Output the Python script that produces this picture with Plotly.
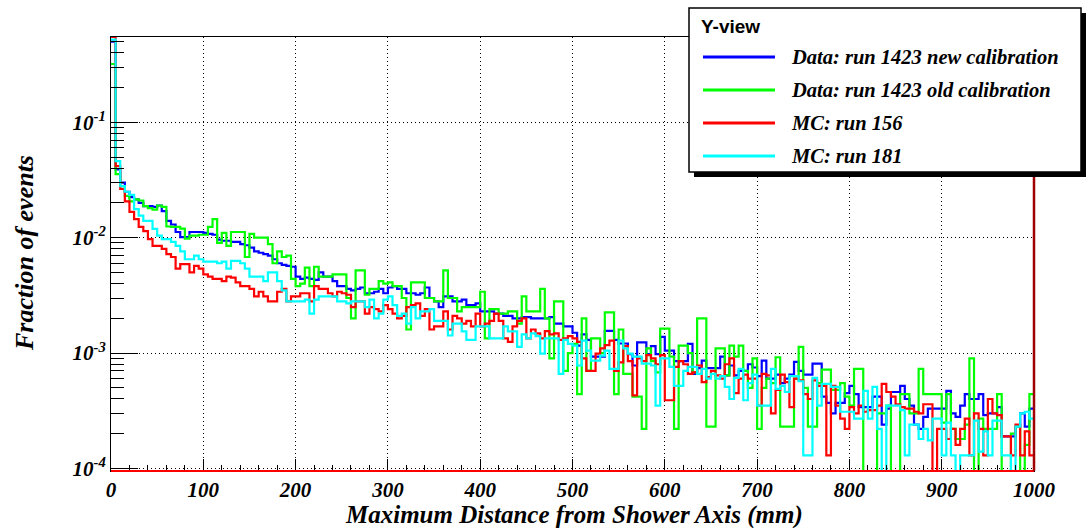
import math
import plotly.graph_objects as go

# ---------------- data (fraction of events, in units of 1e-4) ----------------
bin_width_mm = 5
x_range = [0, 1000]
value_unit = 1e-4

series_names = [
    "Data: run 1423 new calibration",
    "Data: run 1423 old calibration",
    "MC: run 156",
    "MC: run 181",
]
series_colors = ["#0000ff", "#00ff00", "#ff0000", "#00ffff"]

blue_new_cal = [
    5000, 390, 300, 250, 225, 215, 200, 188, 188, 185, 190, 170, 140, 130, 112, 101, 101, 112, 112, 112,
    110, 108, 106, 96, 94, 94, 92, 92, 88, 86, 82, 76, 74, 72, 70, 65, 60, 58, 57, 56,
    46, 44, 45, 44, 43, 50, 46, 46, 42, 38, 38, 36, 35, 36, 37, 33, 33, 34, 36, 33,
    37, 38, 36, 36, 33, 33, 32, 33, 37, 30, 28, 25, 31, 31, 28, 28, 29, 26, 26, 27,
    23, 23, 23, 22, 22, 21, 21, 20, 20, 20.5, 20.5, 20, 20, 20, 20, 20.5, 18, 18, 17, 17,
    15, 11.6, 14.5, 13, 9.3, 9.3, 9.3, 15.6, 15.6, 13, 12.1, 12.1, 9.8, 7.8, 12.4, 12.4, 9.8, 11.5, 9.8, 13.8,
    10.5, 10.5, 8.5, 8.5, 8.5, 12, 6.6, 7.4, 8.6, 7.4, 7.4, 7.4, 9.3, 6.4, 7.8, 6.4, 7.0, 7.0, 8.0, 7.5,
    6.3, 8.6, 6.0, 6.0, 6.5, 5.5, 6.0, 6.5, 8.4, 7.0, 6.5, 6.5, 8.1, 8.1, 4.2, 3.7, 3.0, 3.7, 3.7, 4.5,
    5.2, 4.4, 3.4, 3.4, 3.4, 4.2, 4.2, 2.4, 3.3, 4.6, 4.6, 5.2, 4.0, 3.5, 2.4, 2.2, 2.8, 3.3, 3.3, 3.3,
    3.3, 4.7, 3.0, 2.8, 3.5, 4.4, 4.0, 4.0, 4.4, 2.9, 3.0, 3.0, 3.4, 1.9, 1.9, 1.9, 2.3, 3.0, 2.3, 3.3,
]

green_old_cal = [
    3200, 355, 280, 230, 206, 215, 210, 188, 180, 175, 190, 185, 125, 124, 124, 120, 98, 104, 104, 106,
    106, 124, 145, 90, 110, 85, 112, 112, 112, 68, 108, 100, 100, 100, 88, 60, 76, 68, 70, 44,
    38, 40, 55, 38, 56, 46, 46, 46, 48, 48, 48, 30, 20, 52, 52, 32, 36, 36, 42, 40,
    41, 38, 38, 30, 16, 41, 41, 41, 30, 30, 28, 28, 52, 30, 30, 23, 25, 25, 25, 25,
    34, 13.4, 24, 24, 22, 22, 23, 23, 18, 31, 23, 23, 23, 36, 20, 9, 28, 28, 7, 10,
    12, 4.4, 20, 7, 13.4, 13.4, 10, 22.5, 22.5, 4.4, 16, 6.6, 6.6, 4.2, 4.2, 2.2, 11, 8.5, 6.8, 16.3,
    16.3, 9.3, 2.2, 11.6, 11.6, 10, 6.8, 20, 20, 2.3, 2.3, 11, 11, 6.4, 11.6, 9.3, 11.6, 7, 5, 9,
    2.2, 5, 6, 5.5, 9.2, 2.3, 2.3, 2.3, 6, 11.3, 5, 2.3, 2.3, 5.5, 7.2, 7.2, 4.8, 4.8, 5.5, 4.2,
    3.5, 7.3, 7.3, 0, 0, 0, 3.0, 3.0, 3.5, 0, 0, 4.4, 4.4, 3.0, 3.0, 7.3, 4.4, 4.4, 4.4, 4.4,
    2.5, 4.4, 2.2, 1.8, 1.8, 2.4, 9.0, 0, 2.7, 2.2, 2.2, 2.2, 4.4, 0, 0, 2.0, 2.3, 0, 1.6, 4.4,
]

red_mc156 = [
    5500, 417, 264, 206, 167, 145, 124, 114, 97, 85, 85, 80, 72, 68, 54, 59, 59, 50, 57, 54,
    48, 46, 44, 44, 42, 46, 45, 41, 38, 38, 36, 31, 34, 31, 28, 28, 34, 36, 28, 31,
    31, 33, 33, 28, 38, 36, 36, 33, 31, 34, 33, 32, 25, 28, 28, 22, 25, 24, 23, 26,
    24, 22, 20, 21, 25, 26, 27, 21, 24, 16, 17, 17, 23, 16, 21, 20, 18, 19, 17, 22,
    17, 18, 19, 22, 19, 13.4, 12.5, 17, 19, 20, 13.4, 16, 14.8, 13.4, 15.5, 14.5, 14.8, 13, 13.4, 14,
    13.4, 12.5, 9, 7, 7, 9.9, 11, 11.7, 12.8, 7, 8.3, 11.5, 8.5, 4.3, 9, 8.5, 9.6, 9, 8, 9.6,
    3.9, 3.9, 7.6, 8.5, 8, 6.6, 6.8, 7.8, 5.6, 6.2, 7, 6.4, 6, 8, 9, 4.5, 6, 6.5, 6, 6,
    3.5, 6.6, 6.4, 3.0, 4.8, 6.5, 5.6, 3.4, 6, 5.8, 4.4, 4.0, 5.8, 5.2, 5.2, 1.3, 5.2, 3.5, 2.7, 2.2,
    3.4, 3.0, 3.5, 3.1, 3.2, 3.2, 3.5, 5.4, 4.6, 4.2, 3.6, 3.4, 3.3, 3.3, 3.1, 3.0, 3.6, 3.6, 0, 2.2,
    2.2, 1.8, 2.2, 1.6, 2.2, 2.7, 1.3, 3.0, 2.2, 1.3, 4.0, 3.0, 2.9, 1.9, 1.9, 1.3, 2.4, 1.3, 2.1, 1.3,
]

cyan_mc181 = [
    5200, 460, 280, 250, 235, 177, 155, 140, 140, 119, 104, 97, 97, 92, 85, 76, 65, 65, 70, 65,
    62, 62, 62, 60, 62, 54, 63, 63, 60, 54, 46, 46, 46, 42, 50, 50, 42, 35, 28, 28,
    28, 28, 29, 22, 29, 31, 31, 31, 31, 28, 28, 27, 28, 28, 28, 25, 29, 20, 22, 29,
    31, 26, 21, 22, 18, 25, 20, 23, 23, 24, 19, 19, 19, 14.2, 18, 18, 15.4, 13, 13, 17,
    17, 17, 13.4, 13.4, 13.4, 17, 15.4, 15.4, 11.3, 14.5, 13.4, 14.8, 14, 9.9, 13.4, 13.4, 13.4, 6.6, 13, 12,
    11.6, 7.8, 12.8, 10.5, 8.6, 8.6, 9.5, 10.5, 7.3, 7.3, 12.8, 11, 9.9, 9.3, 9.3, 8.1, 8.1, 7.8, 3.5, 9,
    9, 7.6, 5.2, 5.2, 7, 7.6, 7.6, 6.6, 7.3, 6, 6.6, 6, 6.3, 5.1, 4.0, 6.1, 7.3, 3.9, 5.5, 6.5,
    3.5, 3.5, 3.5, 7.3, 4.9, 5.2, 4.6, 6.3, 6.3, 5.7, 1.3, 1.3, 6.1, 3.5, 5.4, 5.4, 5.1, 5.1, 3.1, 3.1,
    3.1, 2.7, 2.7, 4.7, 2.7, 5.1, 2.2, 0, 3.5, 3.5, 3.5, 3.2, 1.3, 2.4, 2.4, 1.8, 2.2, 1.75, 2.7, 2.7,
    1.3, 2.5, 1.3, 0, 1.3, 1.3, 1.3, 2.6, 1.4, 2.1, 1.3, 2.6, 2.6, 1.3, 1.3, 0, 2.3, 3.0, 3.1, 2.7,
]

red_right_edge_top = 0.04          # height of the red closing edge at x = 1000
x_tick_values = list(range(0, 1001, 100))
y_tick_values = [1e-4, 1e-3, 1e-2, 1e-1]
y_tick_text = ["10<sup>-4</sup>", "10<sup>-3</sup>", "10<sup>-2</sup>", "10<sup>-1</sup>"]
y_log_range = [-4.022, -0.261]
legend_title = "Y-view"
x_title = "Maximum Distance from Shower Axis (mm)"
y_title = "Fraction of events"

# ---------------- figure ----------------
W, H = 1088, 528
L, R, T, B = 111, 54, 37, 57
pw, ph = W - L - R, H - T - B
floor_value = 1e-6


def px(x):
    return (x - L) / pw


def py(y):
    return (H - B - y) / ph


def step(vals):
    xs = [i * bin_width_mm for i in range(len(vals))] + [len(vals) * bin_width_mm]
    ys = [v * value_unit if v > 0 else floor_value for v in vals]
    ys = ys + [ys[-1]]
    return xs, ys


fig = go.Figure()
all_series = [blue_new_cal, green_old_cal, red_mc156, cyan_mc181]
for vals, name, col in zip(all_series, series_names, series_colors):
    xs, ys = step(vals)
    fig.add_trace(go.Scatter(x=xs, y=ys, mode="lines", line=dict(color=col, width=2.2, shape="hv"),
                             name=name, showlegend=False, hoverinfo="skip"))

serif_bi = dict(family="Liberation Serif", color="black", weight="bold", style="italic")
grid_dash = "1px,3px"

minor_y = [k * d for d in [1e-4, 1e-3, 1e-2, 1e-1] for k in range(2, 10)]

fig.update_layout(
    width=W, height=H,
    margin=dict(l=L, r=R, t=T, b=B, pad=0),
    paper_bgcolor="white", plot_bgcolor="white",
    showlegend=False,
    xaxis=dict(
        range=x_range, tickmode="array", tickvals=x_tick_values,
        ticks="inside", ticklen=12, tickwidth=1, tickcolor="black",
        showgrid=True, gridcolor="black", griddash=grid_dash, gridwidth=1,
        showline=True, linecolor="black", linewidth=1, mirror=True, zeroline=False,
        tickfont=dict(size=21, **serif_bi),
        minor=dict(ticks="inside", ticklen=6, dtick=20, tick0=0, tickcolor="black", showgrid=False),
    ),
    yaxis=dict(
        type="log", range=y_log_range, tickmode="array", tickvals=y_tick_values, ticktext=y_tick_text,
        ticks="inside", ticklen=27, tickwidth=1, tickcolor="black",
        showgrid=True, gridcolor="black", griddash=grid_dash, gridwidth=1,
        showline=True, linecolor="black", linewidth=1, mirror=True, zeroline=False,
        tickfont=dict(size=21, **serif_bi),
        minor=dict(ticks="inside", ticklen=13, tickmode="array", tickvals=minor_y,
                   tickcolor="black", showgrid=False),
    ),
)

edge_top_paper = (math.log10(red_right_edge_top) - y_log_range[0]) / (y_log_range[1] - y_log_range[0])

shapes = [
    # red baseline along the bottom of the frame
    dict(type="line", xref="paper", yref="paper", x0=0, x1=1, y0=0, y1=0,
         line=dict(color="#ff0000", width=2), layer="above"),
    # red closing edge of the MC 156 histogram at the right of the frame
    dict(type="line", xref="paper", yref="paper", x0=1, x1=1, y0=0, y1=edge_top_paper,
         line=dict(color="#a00000", width=2.5), layer="above"),
    # legend shadow + box
    dict(type="rect", xref="paper", yref="paper", x0=px(694), x1=px(1086), y0=py(177), y1=py(13),
         fillcolor="black", line=dict(width=0), layer="above"),
    dict(type="rect", xref="paper", yref="paper", x0=px(689), x1=px(1081), y0=py(172), y1=py(8),
         fillcolor="white", line=dict(color="black", width=1.5), layer="above"),
]
annotations = [
    dict(text=x_title, xref="paper", yref="paper", x=px(574), y=py(515), xanchor="center",
         yanchor="middle", showarrow=False, font=dict(size=25, **serif_bi)),
    dict(text=y_title, xref="paper", yref="paper", x=px(25), y=py(253), xanchor="center",
         yanchor="middle", textangle=-90, showarrow=False, font=dict(size=26, **serif_bi)),
    dict(text=legend_title, xref="paper", yref="paper", x=px(699), y=py(27), xanchor="left",
         yanchor="middle", showarrow=False,
         font=dict(family="Liberation Sans", size=19, color="black", weight="bold")),
]
legend_rows_y = [57, 90, 123, 156]
for yy, name, col in zip(legend_rows_y, series_names, series_colors):
    shapes.append(dict(type="line", xref="paper", yref="paper", x0=px(703), x1=px(775),
                       y0=py(yy), y1=py(yy), line=dict(color=col, width=3), layer="above"))
    annotations.append(dict(text=name, xref="paper", yref="paper", x=px(789), y=py(yy),
                            xanchor="left", yanchor="middle", showarrow=False,
                            font=dict(size=20.5, **serif_bi)))

fig.update_layout(shapes=shapes, annotations=annotations)
fig.write_html("out.html")
